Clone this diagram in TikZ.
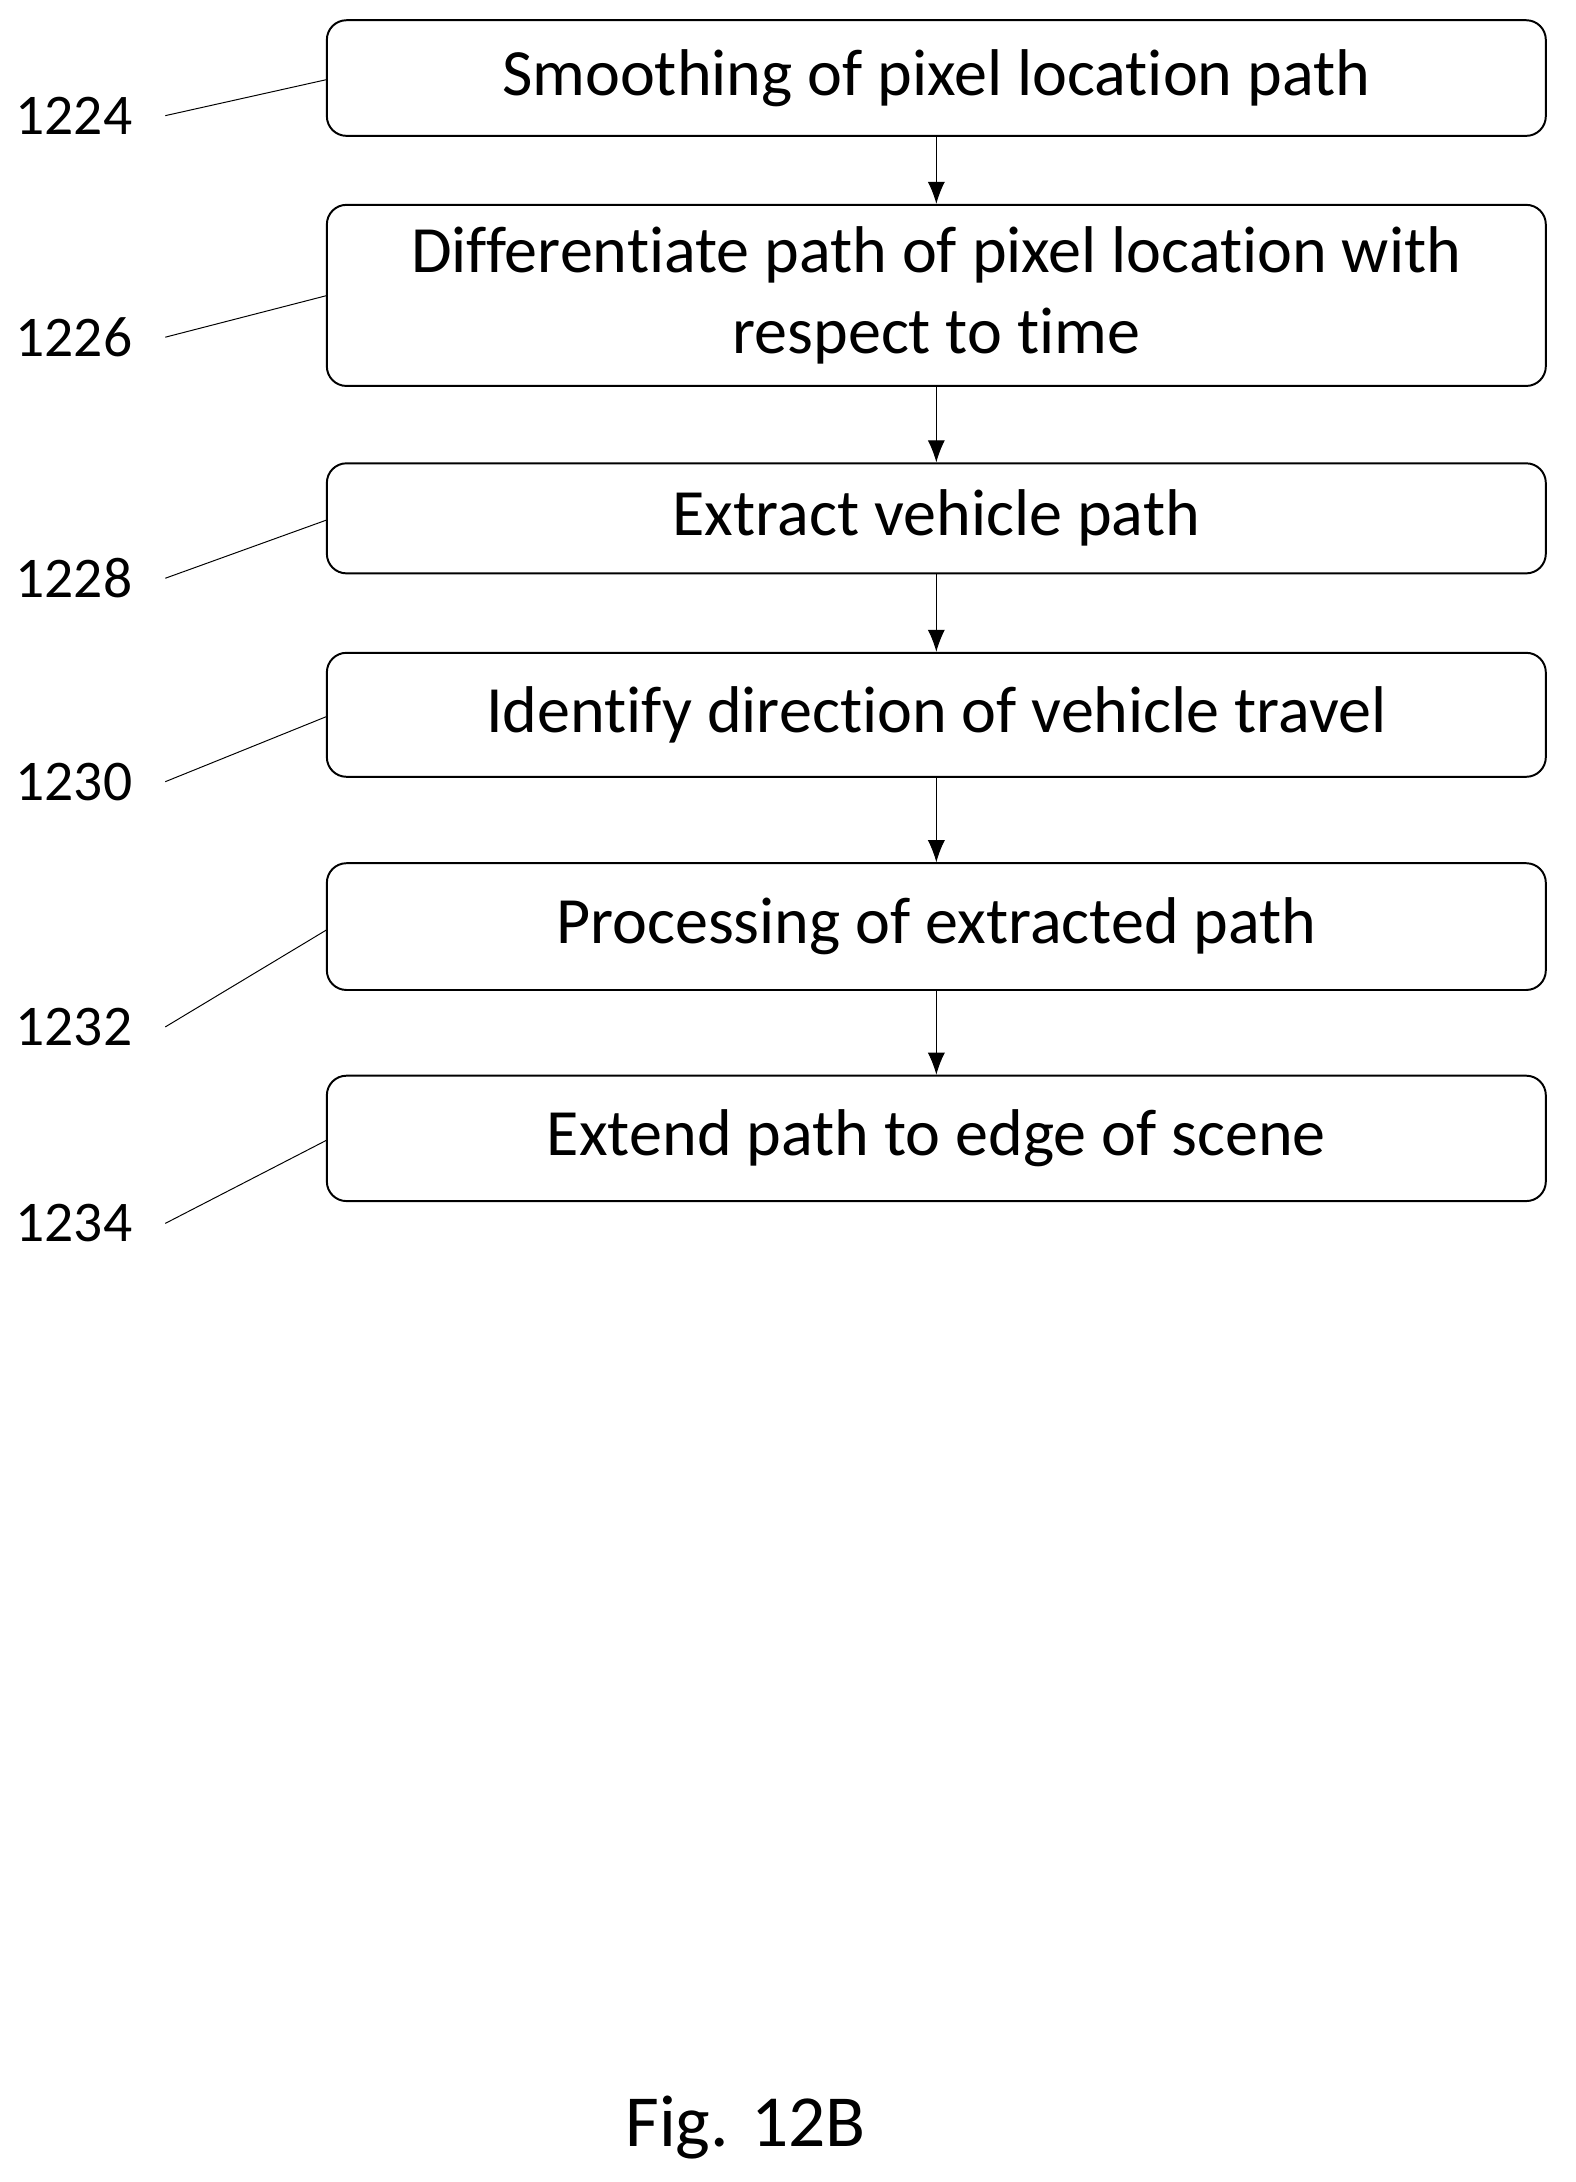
\documentclass[tikz,border=0pt]{standalone}
\usepackage{fontspec}
\setmainfont{Carlito}[Ligatures={NoCommon}]
\usetikzlibrary{positioning,arrows.meta}
\begin{document}
\begin{tikzpicture}[
    x=0.02cm, y=-0.02cm,
    stepbox/.style={draw, rectangle, rounded corners=8pt, thick, align=center,
      minimum width=17.5cm, font=\fontsize{27}{33}\selectfont},
    ref/.style={font=\fontsize{23.5}{28}\selectfont},
    flow/.style={draw, -{Latex[length=9pt,width=7pt]}}
  ]
\useasboundingbox (0,0) rectangle (1131,1566);

% Steps
\node[stepbox, minimum height=1.66cm] (s1224) at (672,56) {Smoothing of pixel location path};
\node[stepbox, minimum height=2.6cm] (s1226) at (672,212) {Differentiate path of pixel location with\\respect to time};
\node[stepbox, minimum height=1.58cm] (s1228) at (672,372) {Extract vehicle path};
\node[stepbox, minimum height=1.78cm] (s1230) at (672,513) {Identify direction of vehicle travel};
\node[stepbox, minimum height=1.82cm] (s1232) at (672,665) {Processing of extracted path};
\node[stepbox, minimum height=1.8cm] (s1234) at (672,817) {Extend path to edge of scene};

% Arrows
\foreach \a/\b in {1224/1226,1226/1228,1228/1230,1230/1232,1232/1234}
  \draw[flow] (s\a) -- (s\b);

% Reference numerals
\foreach \n/\ly/\ty in {1224/83/57,1226/242/212,1228/415/373,1230/561/514,1232/737/667,1234/878/818}{
  \node[ref] (r\n) at (53,\ly) {\n};
  \coordinate (t\n) at (235,\ty);
  \draw (r\n.east) ++(10pt,0) -- (t\n);
}

\node[font=\fontsize{30}{36}\selectfont] (fig) at (535,1527) {Fig. 12B};
\end{tikzpicture}
\end{document}
